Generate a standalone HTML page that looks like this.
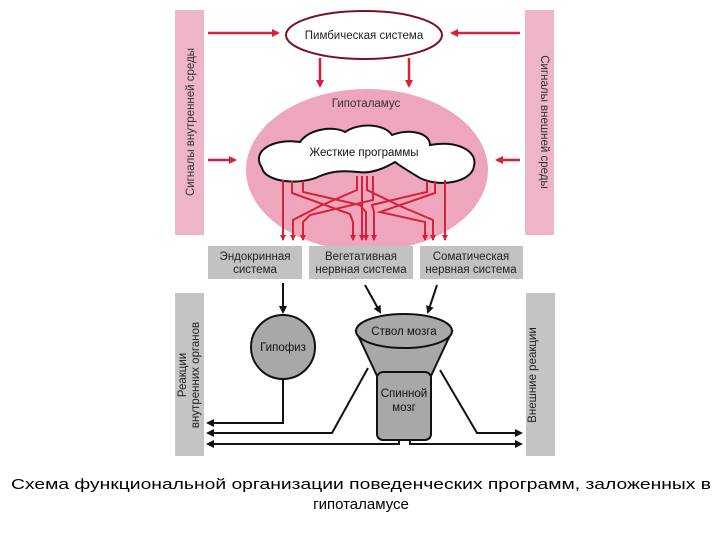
<!DOCTYPE html>
<html><head><meta charset="utf-8"><style>
html,body{margin:0;padding:0;background:#fff;width:720px;height:540px;overflow:hidden}
svg{display:block}
text{font-family:"Liberation Sans",sans-serif}
</style></head><body>
<svg width="720" height="540" viewBox="0 0 720 540" xmlns="http://www.w3.org/2000/svg">
<defs>
<marker id="r" markerWidth="8" markerHeight="8" refX="6" refY="4" orient="auto" markerUnits="userSpaceOnUse"><path d="M0,0 L8,4 L0,8 z" fill="#d8203a"/></marker>
<marker id="rs" markerWidth="6" markerHeight="6" refX="5" refY="3" orient="auto" markerUnits="userSpaceOnUse"><path d="M0,0 L6,3 L0,6 z" fill="#d8203a"/></marker>
<marker id="k" markerWidth="8" markerHeight="8" refX="6" refY="4" orient="auto" markerUnits="userSpaceOnUse"><path d="M0,0 L8,4 L0,8 z" fill="#111"/></marker>
</defs>
<rect x="175" y="10" width="29" height="225" fill="#eeb5c6"/>
<rect x="525" y="10" width="29" height="225" fill="#eeb5c6"/>
<text transform="translate(194,122) rotate(-90)" font-size="11.5" text-anchor="middle" fill="#333">Сигналы внутренней среды</text>
<text transform="translate(541,122) rotate(90)" font-size="11.5" text-anchor="middle" fill="#333">Сигналы внешней среды</text>
<rect x="175" y="293" width="29" height="163" fill="#c4c4c4"/>
<rect x="526" y="293" width="29" height="163" fill="#c4c4c4"/>
<text transform="translate(186,375) rotate(-90)" font-size="11.5" text-anchor="middle" fill="#222">Реакции</text>
<text transform="translate(199,375) rotate(-90)" font-size="11.5" text-anchor="middle" fill="#222">внутренних органов</text>
<text transform="translate(536,375) rotate(-90)" font-size="11.5" text-anchor="middle" fill="#222">Внешние реакции</text>
<ellipse cx="364" cy="35" rx="78" ry="24" fill="#fff" stroke="#7a1020" stroke-width="2"/>
<text x="364" y="39" font-size="11.5" text-anchor="middle" fill="#222">Пимбическая система</text>
<g stroke="#d8203a" stroke-width="2.5" fill="none">
<line x1="208" y1="33" x2="278" y2="33" marker-end="url(#r)"/>
<line x1="520" y1="33" x2="452" y2="33" marker-end="url(#r)"/>
<line x1="320" y1="58" x2="320" y2="86" marker-end="url(#r)"/>
<line x1="409" y1="58" x2="409" y2="86" marker-end="url(#r)"/>
<line x1="208" y1="160" x2="235" y2="160" marker-end="url(#r)"/>
<line x1="520" y1="160" x2="497" y2="160" marker-end="url(#r)"/>
</g>
<ellipse cx="367" cy="170" rx="121" ry="81" fill="#eea6bc"/>
<text x="366" y="107" font-size="11.5" text-anchor="middle" fill="#333">Гипоталамус</text>
<path d="M262,168 C250,150 275,138 300,142 C310,128 335,126 345,132 C360,122 385,124 392,135 C410,128 430,133 430,145 C455,140 478,150 474,166 C472,182 440,188 420,178 C410,172 400,166 395,162 C385,168 372,174 358,172 C340,170 330,172 320,176 C300,186 265,182 262,168 Z" fill="#fff" stroke="#111" stroke-width="2"/>
<text x="364" y="156" font-size="11.5" text-anchor="middle" fill="#111">Жесткие программы</text>
<g stroke="#d8203a" stroke-width="2" fill="none">
<path d="M283,180 V240" marker-end="url(#rs)"/>
<path d="M292,181 V193 L350,214 L353,222 V240" marker-end="url(#rs)"/>
<path d="M303,181 V192 L325,197 L360,205 L366,212 V240" marker-end="url(#rs)"/>
<path d="M357,176 V190 L320,206 L293,220 V240" marker-end="url(#rs)"/>
<path d="M362,176 V240" marker-end="url(#rs)"/>
<path d="M367,176 V190 L400,206 L433,220 V240" marker-end="url(#rs)"/>
<path d="M373,176 V200 L310,215 L303,222 V240" marker-end="url(#rs)"/>
<path d="M427,181 V192 L405,197 L372,205 L374,212 V240" marker-end="url(#rs)"/>
<path d="M435,181 V193 L380,212 L425,222 V240" marker-end="url(#rs)"/>
<path d="M445,180 V240" marker-end="url(#rs)"/>
</g>
<rect x="208" y="246" width="94" height="33" fill="#c2c2c2"/>
<rect x="309" y="246" width="104" height="33" fill="#c2c2c2"/>
<rect x="420" y="246" width="103" height="33" fill="#c2c2c2"/>
<g font-size="11.5" text-anchor="middle" fill="#222">
<text x="255" y="260">Эндокринная</text><text x="255" y="273">система</text>
<text x="361" y="260">Вегетативная</text><text x="361" y="273">нервная система</text>
<text x="471" y="260">Соматическая</text><text x="471" y="273">нервная система</text>
</g>
<g stroke="#111" stroke-width="2" fill="none">
<line x1="283" y1="283" x2="283" y2="312" marker-end="url(#k)"/>
<line x1="365" y1="285" x2="380" y2="312" marker-end="url(#k)"/>
<line x1="437" y1="285" x2="428" y2="312" marker-end="url(#k)"/>
</g>
<circle cx="283" cy="347" r="32" fill="#a8a8a8" stroke="#111" stroke-width="2"/>
<text x="283" y="351" font-size="11.5" text-anchor="middle" fill="#111">Гипофиз</text>
<path d="M356,331 L378,378 L430,378 L452,331 Z" fill="#a8a8a8" stroke="#111" stroke-width="2"/>
<rect x="377" y="372" width="54" height="68" rx="6" fill="#a8a8a8" stroke="#111" stroke-width="2"/>
<path d="M378,378 L430,378" stroke="#a8a8a8" stroke-width="4"/>
<ellipse cx="404" cy="331" rx="48" ry="17" fill="#a8a8a8" stroke="#111" stroke-width="2"/>
<text x="404" y="335" font-size="11.5" text-anchor="middle" fill="#111">Ствол мозга</text>
<text x="404" y="397" font-size="11.5" text-anchor="middle" fill="#111">Спинной</text>
<text x="404" y="411" font-size="11.5" text-anchor="middle" fill="#111">мозг</text>
<g stroke="#111" stroke-width="2" fill="none">
<path d="M283,380 V423 H208" marker-end="url(#k)"/>
<path d="M368,368 L332,433 H208" marker-end="url(#k)"/>
<path d="M399,440 V444 H208" marker-end="url(#k)"/>
<path d="M440,370 L477,433 H521" marker-end="url(#k)"/>
<path d="M410,440 V444 H521" marker-end="url(#k)"/>
</g>
<text x="361" y="489" font-size="15" text-anchor="middle" fill="#000" textLength="700" lengthAdjust="spacingAndGlyphs">Схема функциональной организации поведенческих программ, заложенных в</text>
<text x="361" y="509" font-size="15" text-anchor="middle" fill="#000">гипоталамусе</text>
</svg>
</body></html>
